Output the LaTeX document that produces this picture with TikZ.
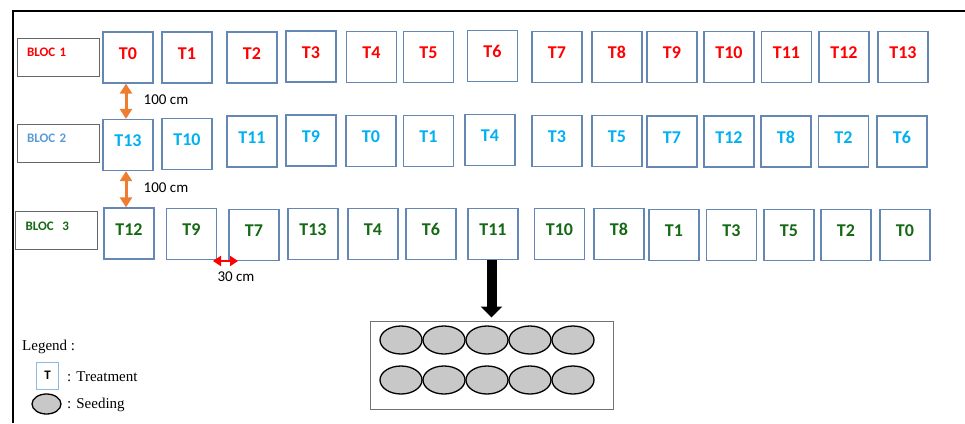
\documentclass[tikz,border=0pt]{standalone}
\usepackage{fontspec}
\setmainfont{Liberation Serif}
\newfontfamily\calibri{Carlito}
\usetikzlibrary{arrows.meta,shapes.geometric}
\definecolor{plotblue}{RGB}{100,135,180}
\definecolor{blocred}{RGB}{255,0,0}
\definecolor{bloccyan}{RGB}{0,176,240}
\definecolor{blocsky}{RGB}{91,155,213}
\definecolor{blocgreen}{RGB}{20,105,20}
\definecolor{distorange}{RGB}{237,125,49}
\definecolor{seedgray}{RGB}{200,200,200}
\tikzset{
  plot/.style={draw=plotblue, line width=1.3pt, minimum width=50pt, minimum height=51pt,
    inner sep=0pt, text height=13pt, text depth=10pt,
    font=\calibri\bfseries\fontsize{18}{18}\selectfont},
  bloclabel/.style={draw=black!60, line width=1pt, minimum width=82pt, minimum height=38pt,
    text width=62pt, inner xsep=10pt, inner ysep=0pt, align=left, text height=9pt, text depth=10pt,
    font=\calibri\bfseries\fontsize{13}{13}\selectfont},
  dist/.style={font=\calibri\fontsize{15}{15}\selectfont},
  seed/.style={ellipse, draw=black, line width=1.3pt, fill=seedgray, inner sep=0pt,
    minimum width=42pt, minimum height=28pt},
  legendtext/.style={anchor=west, inner sep=0pt, font=\fontsize{15}{15}\selectfont}
}
\begin{document}
\begin{tikzpicture}[x=1pt,y=-1pt]
  \useasboundingbox (0,0) rectangle (965,423);
  \draw [line width=2pt] (965,11) -- (13,11) -- (13,423);
  % blocks
  \node [bloclabel, text=blocred] (bloc1) at (58,57) {BLOC 1};
  \node [bloclabel, text=blocsky] (bloc2) at (58,143) {BLOC 2};
  \node [bloclabel, text=blocgreen] (bloc3) at (56.5,230.5) {BLOC~~3};
  \foreach \x/\y/\t [count=\i] in {128/57.5/T0, 187/57.5/T1, 252/57.5/T2, 311/56.5/T3,
      371.5/57/T4, 428.5/57/T5, 492.5/56/T6, 557/57/T7, 617/57/T8, 672/57/T9,
      729/57/T10, 786.5/57/T11, 844/57/T12, 903/57/T13}
    \node [plot, text=blocred] (r1c\i) at (\x,\y) {\t};
  \foreach \x/\y/\t [count=\i] in {128/145/T13, 187/144/T10, 252/141.5/T11, 311/140.5/T9,
      371/141/T0, 428.5/141/T1, 490/140/T4, 557/141/T3, 617/141/T5, 672/141.5/T7,
      729/141.5/T12, 786/141.5/T8, 843.5/141.5/T2, 902/141.5/T6}
    \node [plot, text=bloccyan] (r2c\i) at (\x,\y) {\t};
  \foreach \x/\y/\t [count=\i] in {129/233.5/T12, 191.5/234/T9, 254/235/T7, 313/234/T13,
      373/234/T4, 431/234/T6, 493/234/T11, 559.5/234/T10, 619/234/T8, 674/235/T1,
      731.5/235/T3, 789/235/T5, 846/235/T2, 905/235/T0}
    \node [plot, text=blocgreen] (r3c\i) at (\x,\y) {\t};
  % distances
  \draw [{Triangle[length=10pt,width=12pt]}-{Triangle[length=10pt,width=12pt]},
      line width=3pt, distorange] ([xshift=-2pt]r1c1.south) -- ([xshift=-2pt]r2c1.north);
  \draw [{Triangle[length=10pt,width=12pt]}-{Triangle[length=10pt,width=12pt]},
      line width=3pt, distorange] ([xshift=-2pt]r2c1.south) -- ([xshift=-3pt]r3c1.north);
  \node [dist] (d1) at (166,100) {100 cm};
  \node [dist] (d2) at (166,188) {100 cm};
  \coordinate (g1) at (213,261);
  \coordinate (g2) at (238,261);
  \draw [{Triangle[length=8pt,width=10pt]}-{Triangle[length=8pt,width=10pt]},
      line width=2pt, red] (g1) -- (g2);
  \node [dist] (d3) at (236,277) {30 cm};
  % seeding plot
  \node [draw=black!55, line width=1pt, minimum width=243pt, minimum height=88pt]
      (seedbox) at (491.5,365) {};
  \foreach \i in {0,...,4} {
    \node [seed] (sa\i) at (401+43*\i,340) {};
    \node [seed] (sb\i) at (401+43*\i,380) {};
  }
  \draw [-{Triangle[length=11pt,width=21pt]}, line width=10pt, shorten >=3pt]
      ([xshift=-1.5pt]r3c7.south) -- ([xshift=-1.5pt]r3c7.south |- seedbox.north);
  % legend
  \node [legendtext] (leg) at (22,347) {Legend :};
  \node [draw=blocsky!70, line width=1pt, minimum width=22pt, minimum height=27pt, inner sep=0pt,
      font=\calibri\bfseries\fontsize{13}{13}\selectfont] (legT) at (47.5,375.5) {T};
  \node [legendtext] (legTtxt) at (67,377) {: Treatment};
  \node [seed, minimum width=29pt, minimum height=20pt] (legS) at (46.5,404) {};
  \node [legendtext] (legStxt) at (67,405) {: Seeding};
\end{tikzpicture}
\end{document}
